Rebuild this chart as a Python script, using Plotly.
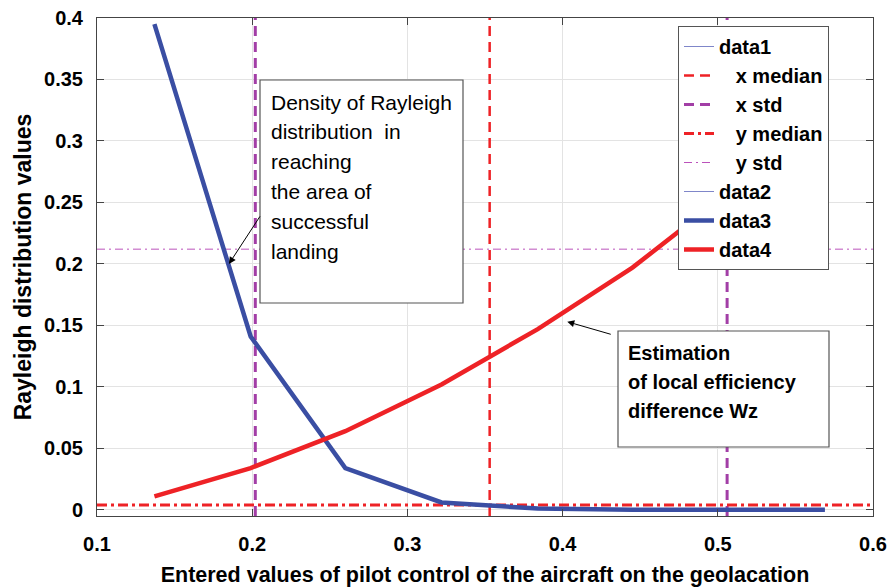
import plotly.graph_objects as go

# ---------------- data ----------------
x_vals = [0.137, 0.199, 0.260, 0.322, 0.384, 0.445, 0.507, 0.569]
data1_y = [0.395, 0.141, 0.034, 0.006, 0.001, 0.0, 0.0, 0.0]
data2_y = [0.395, 0.141, 0.034, 0.006, 0.001, 0.0, 0.0, 0.0]
data3_y = [0.395, 0.141, 0.034, 0.006, 0.001, 0.0, 0.0, 0.0]
data4_y = [0.011, 0.034, 0.064, 0.102, 0.147, 0.197, 0.258, 0.330]
x_median = 0.353
x_std = [0.202, 0.506]
y_median = 0.004
y_std = 0.212
x_range = [0.1, 0.6]
y_range = [-0.005, 0.4]
x_ticks = [0.1, 0.2, 0.3, 0.4, 0.5, 0.6]
y_ticks = [0, 0.05, 0.1, 0.15, 0.2, 0.25, 0.3, 0.35, 0.4]
note1_lines = ["Density of Rayleigh", "distribution\u00a0\u00a0in", "reaching",
               "the area of", "successful", "landing"]
note2_lines = ["Estimation", "of local efficiency", "difference Wz"]
note1_target = (0.185, 0.200)
note2_target = (0.403, 0.153)

# ---------------- layout geometry (page pixels) ----------------
PAGE_W, PAGE_H = 895, 587
OFF = 8                      # default body margin of the page
W, H = PAGE_W - OFF, PAGE_H - OFF
L, R, T, B = 97, 873, 18, 516   # plot area in page pixels


def px(x):
    return (x - L) / (R - L)


def py(y):
    return (B - y) / (B - T)


FONT = "Liberation Sans, Arial, sans-serif"
BLUE = "#3a4ea3"
LIGHTBLUE = "#7f86c9"
RED = "#ee2226"
PURPLE = "#a23ea6"
PINK = "#bb52bb"

fig = go.Figure()

fig.add_trace(go.Scatter(x=x_vals, y=data1_y, mode="lines", name="data1",
                         line=dict(color=LIGHTBLUE, width=1)))
fig.add_trace(go.Scatter(x=[x_median, x_median], y=y_range, mode="lines",
                         name="\u00a0\u00a0\u00a0x median",
                         line=dict(color=RED, width=2.5, dash="10px,6px")))
fig.add_trace(go.Scatter(x=[x_std[0], x_std[0], None, x_std[1], x_std[1]],
                         y=[y_range[0], y_range[1], None, y_range[0], y_range[1]],
                         mode="lines", name="\u00a0\u00a0\u00a0x std",
                         line=dict(color=PURPLE, width=3, dash="10px,6px")))
fig.add_trace(go.Scatter(x=x_range, y=[y_median, y_median], mode="lines",
                         name="\u00a0\u00a0\u00a0y median",
                         line=dict(color=RED, width=3, dash="10px,4px,3px,4px")))
fig.add_trace(go.Scatter(x=x_range, y=[y_std, y_std], mode="lines",
                         name="\u00a0\u00a0\u00a0y std",
                         line=dict(color=PINK, width=1, dash="8px,4px,2px,4px")))
fig.add_trace(go.Scatter(x=x_vals, y=data2_y, mode="lines", name="data2",
                         line=dict(color=LIGHTBLUE, width=1)))
fig.add_trace(go.Scatter(x=x_vals, y=data3_y, mode="lines", name="data3",
                         line=dict(color=BLUE, width=4.5)))
fig.add_trace(go.Scatter(x=x_vals, y=data4_y, mode="lines", name="data4",
                         line=dict(color=RED, width=4.5)))

shapes = [
    dict(type="rect", xref="paper", yref="paper",
         x0=px(260), x1=px(463), y0=py(303), y1=py(80),
         line=dict(color="#555555", width=1.2), fillcolor="white", layer="above"),
    dict(type="rect", xref="paper", yref="paper",
         x0=px(618), x1=px(829), y0=py(447), y1=py(331),
         line=dict(color="#555555", width=1.2), fillcolor="white", layer="above"),
]

annotations = []
for i, t in enumerate(note1_lines):
    annotations.append(dict(xref="paper", yref="paper", x=px(269), y=py(102 + 29.8 * i),
                            text=t, showarrow=False, xanchor="left", yanchor="middle",
                            font=dict(family=FONT, size=21, color="black")))
for i, t in enumerate(note2_lines):
    annotations.append(dict(xref="paper", yref="paper", x=px(626), y=py(353 + 29 * i),
                            text="<b>" + t + "</b>", showarrow=False, xanchor="left",
                            yanchor="middle",
                            font=dict(family=FONT, size=20, color="black")))
annotations.append(dict(x=note1_target[0], y=note1_target[1], xref="x", yref="y",
                        text="", showarrow=True, ax=32, ay=-49, axref="pixel", ayref="pixel",
                        arrowhead=2, arrowsize=1.4, arrowwidth=1, arrowcolor="black"))
annotations.append(dict(x=note2_target[0], y=note2_target[1], xref="x", yref="y",
                        text="", showarrow=True, ax=45, ay=13, axref="pixel", ayref="pixel",
                        arrowhead=2, arrowsize=1.4, arrowwidth=1, arrowcolor="black"))

axis_common = dict(showline=True, linecolor="#444444", linewidth=1, mirror="ticks",
                   ticks="inside", ticklen=7, tickcolor="#444444", automargin=False,
                   ticklabeloverflow="allow",
                   showgrid=True, gridcolor="#e3e3e3", gridwidth=1, zeroline=False,
                   tickfont=dict(family=FONT, size=20, color="black", weight="bold"))

fig.update_layout(
    width=W, height=H,
    margin=dict(l=L - OFF, r=PAGE_W - R, t=T - OFF, b=PAGE_H - B),
    paper_bgcolor="white", plot_bgcolor="white",
    shapes=shapes, annotations=annotations,
    showlegend=True,
    legend=dict(x=px(678), y=py(26), xanchor="left", yanchor="top",
                bgcolor="white", bordercolor="#555555", borderwidth=1,
                font=dict(family=FONT, size=20, color="black", weight="bold"),
                itemwidth=30, tracegroupgap=0),
    xaxis=dict(range=x_range, tickvals=x_ticks,
               ticktext=[f"{v:g}" for v in x_ticks], ticklabelstandoff=10,
               title=dict(text="Entered values of pilot control of the aircraft on the geolacation",
                          font=dict(family=FONT, size=21.5, color="black", weight="bold"),
                          standoff=12),
               **axis_common),
    yaxis=dict(range=y_range, tickvals=y_ticks,
               ticktext=[f"{v:g}" for v in y_ticks], ticklabelstandoff=9,
               title=dict(text="Rayleigh distribution values",
                          font=dict(family=FONT, size=23, color="black", weight="bold"),
                          standoff=6),
               **axis_common),
)

fig.write_html("out.html")
